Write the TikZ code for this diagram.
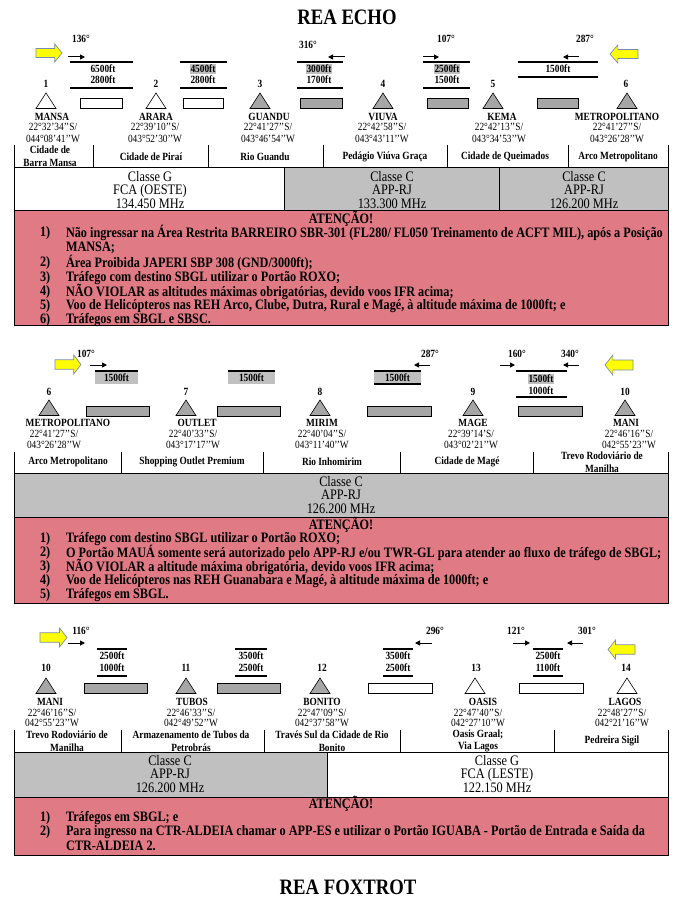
\documentclass[tikz,border=0pt]{standalone}
\usepackage{fontspec}
\setmainfont{Liberation Serif}[FakeStretch=0.85]
\usetikzlibrary{arrows.meta}
\definecolor{tgrey}{RGB}{166,166,166}
\definecolor{cgrey}{RGB}{192,192,192}
\definecolor{hgrey}{RGB}{192,192,192}
\definecolor{pinkbox}{RGB}{224,122,132}
\definecolor{yel}{RGB}{255,255,0}
\definecolor{yedge}{RGB}{120,140,175}
\newcommand\fsm{\fontsize{11}{11.5}\selectfont}
\newcommand\fsmb{\fontsize{11}{10.5}\selectfont}
\newcommand\fnm{\fontsize{11}{12.5}\selectfont}
\newcommand\fcl{\fontsize{14.5}{13.5}\selectfont}
\newcommand\fat{\fontsize{14.4}{14}\selectfont}
\newcommand\ftt{\fontsize{22}{22}\selectfont}
\newcommand\tri[3]{\draw[fill=#3, line width=0.6pt] (#1,#2) -- ({#1+10},{#2+15.5}) -- ({#1-10},{#2+15.5}) -- cycle;}
\newcommand\yarR[4]{\draw[yarrow] (#1,{#2+0.25*(#4-#2)}) -- ({#1+0.72*(#3-#1)},{#2+0.25*(#4-#2)}) -- ({#1+0.72*(#3-#1)},#2) -- (#3,{0.5*(#2+#4)}) -- ({#1+0.72*(#3-#1)},#4) -- ({#1+0.72*(#3-#1)},{#4-0.25*(#4-#2)}) -- (#1,{#4-0.25*(#4-#2)}) -- cycle;}
\newcommand\yarL[4]{\draw[yarrow] (#3,{#2+0.25*(#4-#2)}) -- ({#3-0.72*(#3-#1)},{#2+0.25*(#4-#2)}) -- ({#3-0.72*(#3-#1)},#2) -- (#1,{0.5*(#2+#4)}) -- ({#3-0.72*(#3-#1)},#4) -- ({#3-0.72*(#3-#1)},{#4-0.25*(#4-#2)}) -- (#3,{#4-0.25*(#4-#2)}) -- cycle;}
\tikzset{
 every node/.style={inner sep=0pt, outer sep=0pt},
 bl/.style={font=\fsm\bfseries},
 cd/.style={font=\fsm, align=center},
 cdb/.style={font=\fsmb, align=center},
 nm/.style={font=\fnm\bfseries, align=center},
 hl/.style={font=\fsm\bfseries, fill=hgrey, inner xsep=0.5pt, inner ysep=1pt},
 cls/.style={font=\fcl, align=center},
 attn/.style={font=\fat\bfseries, anchor=west},
 atth/.style={font=\fat\bfseries},
 altl/.style={line width=2pt},
 leg/.style={draw, line width=0.8pt},
 tbl/.style={line width=1pt},
 sarr/.style={-{Triangle[length=5pt,width=5pt]}, line width=1pt},
 yarrow/.style={fill=yel, draw=yedge, line width=0.7pt},
}
\begin{document}
\begin{tikzpicture}[x=1pt,y=-1pt]
\useasboundingbox (0,0) rectangle (679,917);
\fill[white] (0,0) rectangle (679,917);
% ================= SECTION 1 =================
\node[font=\ftt\bfseries] (t1) at (347,17) {REA ECHO};
\yarR{36}{44}{62}{62}
\yarL{610}{45}{638}{63}
\node[bl] (d136) at (81,39) {136°};
\coordinate (a1s) at (68,57); \coordinate (a1e) at (85,57); \draw[sarr] (a1s) -- (a1e);
\node[bl] (d316) at (308,45) {316°};
\coordinate (a2s) at (345,57); \coordinate (a2e) at (328,57); \draw[sarr] (a2s) -- (a2e);
\node[bl] (d107) at (446,39) {107°};
\coordinate (a3s) at (423,57); \coordinate (a3e) at (439,57); \draw[sarr] (a3s) -- (a3e);
\node[bl] (d287) at (585,39) {287°};
\coordinate (a4s) at (579,57); \coordinate (a4e) at (563,57); \draw[sarr] (a4s) -- (a4e);
\draw[altl] (70,62) -- (133,62); \draw[altl] (70,88) -- (133,88);
\node[bl] (h12a) at (103,69) {6500ft}; \node[bl] (h12b) at (103,80) {2800ft};
\draw[altl] (180,62) -- (227,62); \draw[altl] (180,88) -- (227,88);
\node[hl] (h23a) at (203,69) {4500ft}; \node[bl] (h23b) at (203,80) {2800ft};
\draw[altl] (297,62) -- (343,62); \draw[altl] (297,88) -- (343,88);
\node[hl] (h34a) at (319,69) {3000ft}; \node[bl] (h34b) at (319,80) {1700ft};
\draw[altl] (423,62) -- (470,62); \draw[altl] (423,88) -- (470,88);
\node[hl] (h45a) at (447,69) {2500ft}; \node[bl] (h45b) at (447,80) {1500ft};
\draw[altl] (518,62) -- (598,62); \draw[altl] (518,77) -- (598,77);
\node[bl] (h56a) at (558,69) {1500ft};
\draw[leg, fill=white] (80,98) rectangle (122,108);
\draw[leg, fill=white] (183,98) rectangle (223,108);
\draw[leg, fill=tgrey] (300,98) rectangle (342,108);
\draw[leg, fill=tgrey] (427,98) rectangle (468,108);
\draw[leg, fill=tgrey] (537,98) rectangle (578,108);
\node[bl] (n1) at (46,84) {1}; \tri{46}{93}{white}
\node[bl] (w1) at (52,117) {MANSA}; \node[cd] (c1) at (53,133) {22°32’34’’S/\\044°08’41’’W};
\node[bl] (n2) at (156,84) {2}; \tri{156}{93}{white}
\node[bl] (w2) at (156,117) {ARARA}; \node[cd] (c2) at (155,133) {22°39’10’’S/\\043°52’30’’W};
\node[bl] (n3) at (260,84) {3}; \tri{260}{93}{tgrey}
\node[bl] (w3) at (269,117) {GUANDU}; \node[cd] (c3) at (268,133) {22°41’27’’S/\\043°46’54’’W};
\node[bl] (n4) at (383,84) {4}; \tri{383}{93}{tgrey}
\node[bl] (w4) at (383,117) {VIUVA}; \node[cd] (c4) at (382,133) {22°42’58’’S/\\043°43’11’’W};
\node[bl] (n5) at (493,84) {5}; \tri{493}{93}{tgrey}
\node[bl] (w5) at (502,117) {KEMA}; \node[cd] (c5) at (499,133) {22°42’13’’S/\\043°34’53’’W};
\node[bl] (n6) at (626,84) {6}; \tri{627}{93}{tgrey}
\node[bl] (w6) at (617,117) {METROPOLITANO}; \node[cd] (c6) at (617,133) {22°41’27’’S/\\043°26’28’’W};
\fill[cgrey] (284,168) rectangle (668,211);
\fill[pinkbox] (14,211) rectangle (668,325);
\draw[tbl] (14,145) -- (14,325) -- (668,325) -- (668,145);
\foreach \xx in {93,208,323,447,568} \draw[tbl] (\xx,145) -- (\xx,168);
\draw[tbl] (14,168) -- (668,168);
\draw[tbl] (284,168) -- (284,211); \draw[tbl] (499,168) -- (499,211);
\draw[tbl] (14,211) -- (668,211);
\node[nm] (r11) at (50,156) {Cidade de\\Barra Mansa};
\node[nm] (r12) at (151,157) {Cidade de Piraí};
\node[nm] (r13) at (265,157) {Rio Guandu};
\node[nm] (r14) at (385,157) {Pedágio Viúva Graça};
\node[nm] (r15) at (505,157) {Cidade de Queimados};
\node[nm] (r16) at (618,157) {Arco Metropolitano};
\node[cls] (k11) at (150,190) {Classe G\\FCA (OESTE)\\134.450 MHz};
\node[cls] (k12) at (392,190) {Classe C\\APP-RJ\\133.300 MHz};
\node[cls] (k13) at (584,190) {Classe C\\APP-RJ\\126.200 MHz};
\node[atth] (att1) at (341,219) {ATENÇÃO!};
\node[attn] (p11) at (40,233) {1)}; \node[attn] (q11) at (66,233) {Não ingressar na Área Restrita BARREIRO SBR-301 (FL280/ FL050 Treinamento de ACFT MIL), após a Posição};
\node[attn] (q11b) at (66,248) {MANSA;};
\node[attn] (p12) at (40,263) {2)}; \node[attn] (q12) at (66,263) {Área Proibida JAPERI SBP 308 (GND/3000ft);};
\node[attn] (p13) at (40,278) {3)}; \node[attn] (q13) at (66,278) {Tráfego com destino SBGL utilizar o Portão ROXO;};
\node[attn] (p14) at (40,292) {4)}; \node[attn] (q14) at (66,292) {NÃO VIOLAR as altitudes máximas obrigatórias, devido voos IFR acima;};
\node[attn] (p15) at (40,306) {5)}; \node[attn] (q15) at (66,306) {Voo de Helicópteros nas REH Arco, Clube, Dutra, Rural e Magé, à altitude máxima de 1000ft; e};
\node[attn] (p16) at (40,320) {6)}; \node[attn] (q16) at (66,320) {Tráfegos em SBGL e SBSC.};
% ================= SECTION 2 =================
\yarR{55}{355}{81}{374}
\yarL{605}{355}{633}{375}
\node[bl] (e107) at (86,354) {107°};
\coordinate (b1s) at (90,365); \coordinate (b1e) at (107,365); \draw[sarr] (b1s) -- (b1e);
\node[bl] (e287) at (430,354) {287°};
\coordinate (b2s) at (430,365); \coordinate (b2e) at (414,365); \draw[sarr] (b2s) -- (b2e);
\node[bl] (e160) at (517,354) {160°};
\coordinate (b3s) at (500,365); \coordinate (b3e) at (515,365); \draw[sarr] (b3s) -- (b3e);
\node[bl] (e340) at (570,354) {340°};
\coordinate (b4s) at (579,365); \coordinate (b4e) at (563,365); \draw[sarr] (b4s) -- (b4e);
\fill[hgrey] (95,372) rectangle (138,384); \draw[altl] (95,371) -- (138,371);
\node[bl] (g67) at (116.5,378) {1500ft};
\fill[hgrey] (228,372) rectangle (275,384); \draw[altl] (228,371) -- (275,371);
\node[bl] (g78) at (251.5,378) {1500ft};
\fill[hgrey] (374,372) rectangle (421,384); \draw[altl] (374,371) -- (421,371); \draw[line width=1.5pt] (374,384) -- (421,384);
\node[bl] (g89) at (397.5,378) {1500ft};
\draw[altl] (516,371) -- (567,371); \draw[altl] (516,397) -- (567,397);
\node[hl] (g910a) at (541,379) {1500ft}; \node[bl] (g910b) at (541,391) {1000ft};
\draw[leg, fill=tgrey] (86,406) rectangle (149,416);
\draw[leg, fill=tgrey] (217,406) rectangle (280,416);
\draw[leg, fill=tgrey] (367,406) rectangle (431,416);
\draw[leg, fill=tgrey] (518,406) rectangle (582,416);
\node[bl] (m6) at (49,392) {6}; \tri{49}{400}{tgrey}
\node[bl] (v6) at (68,423) {METROPOLITANO}; \node[cd] (s6) at (54,439.5) {22°41’27’’S/\\043°26’28’’W};
\node[bl] (m7) at (186,392) {7}; \tri{186}{400}{tgrey}
\node[bl] (v7) at (197,423) {OUTLET}; \node[cd] (s7) at (193,439.5) {22°40’33’’S/\\043°17’17’’W};
\node[bl] (m8) at (320,392) {8}; \tri{320}{400}{tgrey}
\node[bl] (v8) at (322,423) {MIRIM}; \node[cd] (s8) at (322,439.5) {22°40’04’’S/\\043°11’40’’W};
\node[bl] (m9) at (473,392) {9}; \tri{473}{400}{tgrey}
\node[bl] (v9) at (473,423) {MAGE}; \node[cd] (s9) at (471,439.5) {22°39’14’S/\\043°02’21’’W};
\node[bl] (m10) at (625,392) {10}; \tri{625}{400}{tgrey}
\node[bl] (v10) at (626,423) {MANI}; \node[cd] (s10) at (629,439.5) {22°46’16’’S/\\042°55’23’’W};
\fill[cgrey] (14,473) rectangle (668,517);
\fill[pinkbox] (14,517) rectangle (668,603);
\draw[tbl] (14,452) -- (14,603) -- (668,603) -- (668,452);
\foreach \xx in {121,263,400,533} \draw[tbl] (\xx,452) -- (\xx,473);
\draw[tbl] (14,473) -- (668,473);
\draw[tbl] (14,517) -- (668,517);
\node[nm] (r21) at (68,462) {Arco Metropolitano};
\node[nm] (r22) at (192,462) {Shopping Outlet Premium};
\node[nm] (r23) at (332,462) {Rio Inhomirim};
\node[nm] (r24) at (467,462) {Cidade de Magé};
\node[nm] (r25) at (602,462) {Trevo Rodoviário de\\Manilha};
\node[cls] (k21) at (341,495) {Classe C\\APP-RJ\\126.200 MHz};
\node[atth] (att2) at (341,525) {ATENÇÃO!};
\node[attn] (p21) at (40,539) {1)}; \node[attn] (q21) at (66,539) {Tráfego com destino SBGL utilizar o Portão ROXO;};
\node[attn] (p22) at (40,553) {2)}; \node[attn] (q22) at (66,553) {O Portão MAUÁ somente será autorizado pelo APP-RJ e/ou TWR-GL para atender ao fluxo de tráfego de SBGL;};
\node[attn] (p23) at (40,567) {3)}; \node[attn] (q23) at (66,567) {NÃO VIOLAR a altitude máxima obrigatória, devido voos IFR acima;};
\node[attn] (p24) at (40,581) {4)}; \node[attn] (q24) at (66,581) {Voo de Helicópteros nas REH Guanabara e Magé, à altitude máxima de 1000ft; e};
\node[attn] (p25) at (40,595) {5)}; \node[attn] (q25) at (66,595) {Tráfegos em SBGL.};
% ================= SECTION 3 =================
\yarR{40}{628}{67}{647}
\yarL{608}{640}{635}{659}
\node[bl] (f116) at (81,631) {116°};
\coordinate (c1s) at (68,643); \coordinate (c1e) at (85,643); \draw[sarr] (c1s) -- (c1e);
\node[bl] (f296) at (435,631) {296°};
\coordinate (c2s) at (432,643); \coordinate (c2e) at (415,643); \draw[sarr] (c2s) -- (c2e);
\node[bl] (f121) at (516,631) {121°};
\coordinate (c3s) at (513,643); \coordinate (c3e) at (530,643); \draw[sarr] (c3s) -- (c3e);
\node[bl] (f301) at (587,631) {301°};
\coordinate (c4s) at (583,643); \coordinate (c4e) at (567,643); \draw[sarr] (c4s) -- (c4e);
\draw[altl] (97,649) -- (127,649); \draw[altl] (97,676) -- (127,676);
\node[bl] (j1a) at (112,656) {2500ft}; \node[bl] (j1b) at (112,668) {1000ft};
\draw[altl] (235,649) -- (267,649); \draw[altl] (235,676) -- (267,676);
\node[bl] (j2a) at (251,656) {3500ft}; \node[bl] (j2b) at (251,668) {2500ft};
\draw[altl] (383,649) -- (413,649); \draw[altl] (383,676) -- (413,676);
\node[bl] (j3a) at (398,656) {3500ft}; \node[bl] (j3b) at (398,668) {2500ft};
\draw[altl] (533,649) -- (563,649); \draw[altl] (533,676) -- (563,676);
\node[bl] (j4a) at (548,656) {2500ft}; \node[bl] (j4b) at (548,668) {1100ft};
\draw[leg, fill=tgrey] (84,683) rectangle (147,693);
\draw[leg, fill=tgrey] (217,683) rectangle (280,693);
\draw[leg, fill=white] (368,683) rectangle (432,693);
\draw[leg, fill=white] (519,683) rectangle (583,693);
\node[bl] (o10) at (46,668) {10}; \tri{46}{678}{tgrey}
\node[bl] (u10) at (50,702) {MANI}; \node[cdb] (z10) at (52,718) {22°46’16’’S/\\042°55’23’’W};
\node[bl] (o11) at (186,668) {11}; \tri{186}{678}{tgrey}
\node[bl] (u11) at (192,702) {TUBOS}; \node[cdb] (z11) at (191,718) {22°46’33’’S/\\042°49’52’’W};
\node[bl] (o12) at (322,668) {12}; \tri{320}{678}{tgrey}
\node[bl] (u12) at (322,702) {BONITO}; \node[cdb] (z12) at (322,718) {22°47’09’’S/\\042°37’58’’W};
\node[bl] (o13) at (476,668) {13}; \tri{475}{678}{white}
\node[bl] (u13) at (483,702) {OASIS}; \node[cdb] (z13) at (478,718) {22°47’40’’S/\\042°27’10’’W};
\node[bl] (o14) at (626,668) {14}; \tri{627}{678}{white}
\node[bl] (u14) at (625,702) {LAGOS}; \node[cdb] (z14) at (622,718) {22°48’27’’S/\\042°21’16’’W};
\fill[cgrey] (14,752) rectangle (327,797);
\fill[pinkbox] (14,797) rectangle (668,855);
\draw[tbl] (14,730) -- (14,855) -- (668,855) -- (668,730);
\foreach \xx in {121,264,400,554} \draw[tbl] (\xx,730) -- (\xx,752);
\draw[tbl] (14,752) -- (668,752);
\draw[tbl] (327,752) -- (327,797);
\draw[tbl] (14,797) -- (668,797);
\node[nm] (r31) at (67,741) {Trevo Rodoviário de\\Manilha};
\node[nm] (r32) at (191,741) {Armazenamento de Tubos da\\Petrobrás};
\node[nm] (r33) at (332,741) {Través Sul da Cidade de Rio\\Bonito};
\node[nm] (r34) at (478,741) {Oasis Graal;\\Via Lagos};
\node[nm] (r35) at (612,741) {Pedreira Sigil};
\node[cls] (k31) at (170,774) {Classe C\\APP-RJ\\126.200 MHz};
\node[cls] (k32) at (497,774) {Classe G\\FCA (LESTE)\\122.150 MHz};
\node[atth] (att3) at (341,804) {ATENÇÃO!};
\node[attn] (p31) at (40,818) {1)}; \node[attn] (q31) at (66,818) {Tráfegos em SBGL; e};
\node[attn] (p32) at (40,832) {2)}; \node[attn] (q32) at (66,832) {Para ingresso na CTR-ALDEIA chamar o APP-ES e utilizar o Portão IGUABA - Portão de Entrada e Saída da};
\node[attn] (q32b) at (66,846) {CTR-ALDEIA 2.};
\node[font=\ftt\bfseries] (t2) at (348,887) {REA FOXTROT};
\end{tikzpicture}
\end{document}
